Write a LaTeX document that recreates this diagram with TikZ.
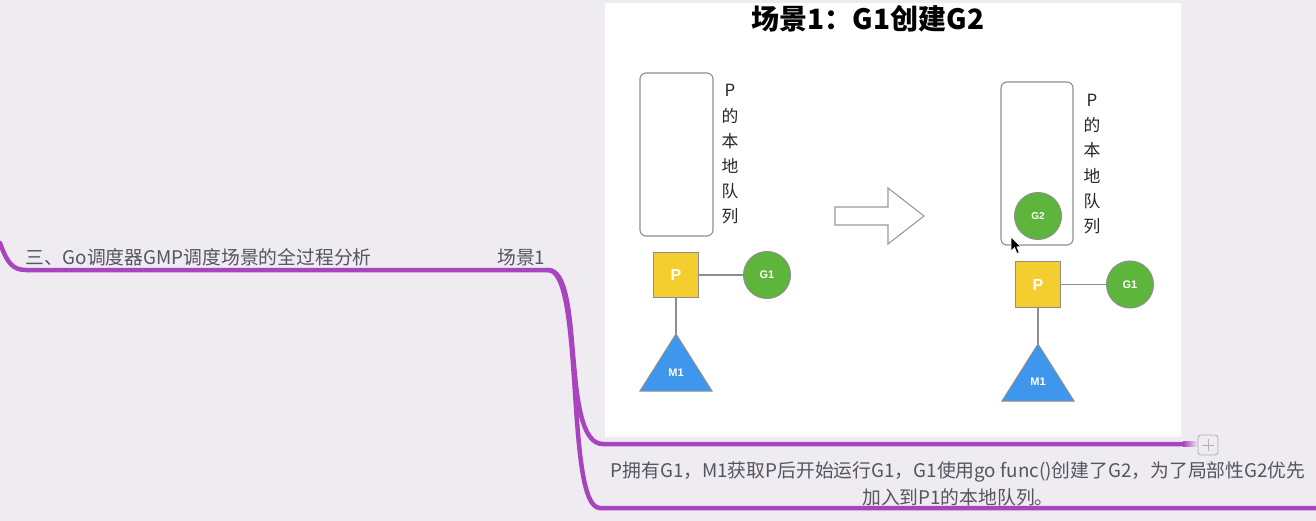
\documentclass[tikz,border=0pt]{standalone}
\usepackage{fontspec}
\setmainfont{Liberation Sans}
\newfontfamily\cjk{Noto Sans CJK SC}
\usetikzlibrary{shapes.geometric}
\definecolor{bgc}{HTML}{EEEBF1}
\definecolor{mmpurple}{HTML}{A845BE}
\definecolor{mmtext}{HTML}{55555F}
\definecolor{gfill}{HTML}{5DB53C}
\definecolor{pfill}{HTML}{F4CD2F}
\definecolor{mfill}{HTML}{3E97EC}
\definecolor{edge}{HTML}{8E8E8E}
\tikzset{
  mm/.style={draw=mmpurple, line width=4.5pt, line cap=round},
  mmlabel/.style={font=\cjk\fontsize{18.8}{20}\selectfont, text=mmtext, inner sep=0pt},
  queue/.style={draw=edge, line width=1.1pt, rounded corners=6pt, fill=white},
  qtext/.style={font=\cjk\fontsize{16.8}{25.2}\selectfont, align=center, inner sep=0pt, text=black!85},
  gnode/.style={circle, draw=edge, line width=1pt, fill=gfill, minimum size=47pt, inner sep=0pt, text=white, font=\bfseries\fontsize{11}{13}\selectfont},
  pnode/.style={rectangle, draw=edge, line width=1pt, fill=pfill, minimum size=45.5pt, inner sep=0pt, text=white, font=\bfseries\fontsize{16}{18}\selectfont},
  link/.style={draw=edge, line width=1.1pt},
  tri/.style={draw=edge, line width=1pt, fill=mfill},
  mlabel/.style={text=white, font=\bfseries\fontsize{11}{13}\selectfont, inner sep=0pt},
}
\begin{document}
\begin{tikzpicture}[x=1pt,y=-1pt]
\useasboundingbox (0,0) rectangle (1316,521);
\fill[bgc] (0,0) rectangle (1316,521);
% white panel
\fill[white] (605,3) rectangle (1181,437);

% mind map lines
\coordinate (startL) at (0,243);
\coordinate (hub) at (548,270);
\coordinate (b1) at (603,444);
\coordinate (b1e) at (1184,444);
\coordinate (b2) at (600,508);
\coordinate (b2e) at (1318,508);
\draw[mm] (startL) .. controls (7,262) and (12,270) .. (26,270) -- (hub);
\draw[mm] (hub) .. controls (585,270) and (560,444) .. (b1) -- (b1e);
\draw[mm] (hub) .. controls (585,270) and (565,508) .. (b2) -- (b2e);
\shade[left color=mmpurple, right color=bgc] (1183,441.75) rectangle (1198,446.25);

% plus box
\node[draw=black!30, line width=0.9pt, rounded corners=3pt, minimum size=20pt, fill=bgc, inner sep=0pt] (plus) at (1208,445) {};
\draw[black!30, line width=1pt] ([xshift=-6pt]plus.center) -- ([xshift=6pt]plus.center);
\draw[black!30, line width=1pt] ([yshift=-6pt]plus.center) -- ([yshift=6pt]plus.center);

% mind map texts
\node[mmlabel, anchor=west] (root) at (25,257) {三、Go调度器GMP调度场景的全过程分析};
\node[mmlabel, anchor=west] (scene) at (497,257) {场景1};
\node[mmlabel, align=center, font=\cjk\fontsize{18.8}{27}\selectfont] (desc) at (958,483.5) {P拥有G1，M1获取P后开始运行G1，G1使用go func()创建了G2，为了局部性G2优先\\加入到P1的本地队列。};

% title
\node[font=\cjk\bfseries\fontsize{28}{32}\selectfont, inner sep=0pt] (title) at (868,19) {场景1：G1创建G2};

% ---- left state ----
\draw[queue] (640,73) rectangle (713,236);
\node[qtext] (qt1) at (730,154.5) {P\\的\\本\\地\\队\\列};
\node[pnode] (p1) at (676,275) {P};
\node[gnode] (g1a) at (767,275) {G1};
\coordinate (m1atop) at (676,334);
\draw[tri] (m1atop) -- (712,391) -- (640,391) -- cycle;
\node[mlabel] (m1a) at (676,373) {M1};
\draw[link] (p1.east) -- (g1a.west);
\draw[link] (p1.south) -- (m1atop);

% ---- arrow ----
\draw[draw=black!40, line width=1.1pt, fill=white, line join=miter]
  (835,207) -- (888,207) -- (888,188) -- (924,216) -- (888,244) -- (888,225) -- (835,225) -- cycle;

% ---- right state ----
\draw[queue] (1001,82) rectangle (1073,245);
\node[qtext] (qt2) at (1092,164) {P\\的\\本\\地\\队\\列};
\node[gnode, font=\bfseries\fontsize{10}{12}\selectfont] (g2) at (1038,216) {G2};
\node[pnode] (p2) at (1038,284.5) {P};
\node[gnode] (g1b) at (1130,284.5) {G1};
\coordinate (m1btop) at (1038,344);
\draw[tri] (m1btop) -- (1074,401) -- (1002,401) -- cycle;
\node[mlabel] (m1b) at (1038,382) {M1};
\draw[link] (p2.east) -- (g1b.west);
\draw[link] (p2.south) -- (m1btop);

% cursor
\draw[fill=black, draw=white, line width=0.6pt, line join=round]
  (1011,237) -- (1011,251) -- (1014.5,247.5) -- (1017,253.5) -- (1019.2,252.6) -- (1016.8,246.8) -- (1021,246.8) -- cycle;
\end{tikzpicture}
\end{document}
